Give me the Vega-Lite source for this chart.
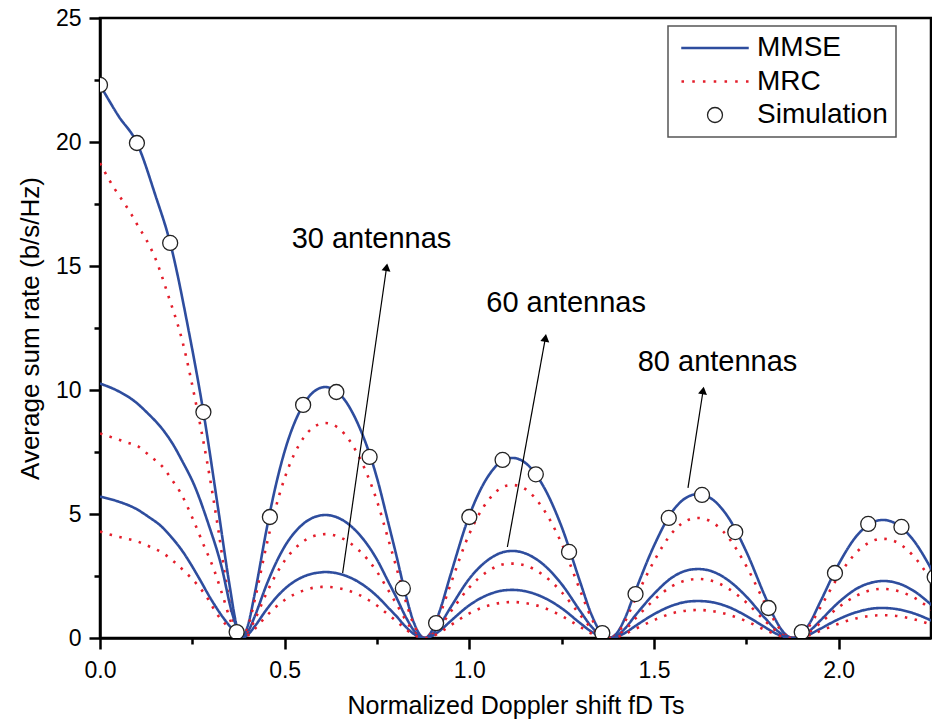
{
"$schema": "https://vega.github.io/schema/vega-lite/v6.json",
"width": 831, "height": 620,
"autosize": {"type": "none"},
"padding": {"left": 100, "top": 18, "right": 1, "bottom": 87},
"background": "white",
"config": {
  "font": "Liberation Sans",
  "view": {"stroke": "black", "strokeWidth": 2.5},
  "axis": {"domainColor": "black", "domainWidth": 2.5, "tickColor": "black", "tickWidth": 2.5, "labelFont": "Liberation Sans", "labelFontSize": 23, "labelColor": "black", "titleFont": "Liberation Sans", "titleFontSize": 25, "titleFontWeight": "normal", "titleColor": "black", "grid": false, "labelFlush": false}
},
"datasets": {
"curves": [
{"method":"MMSE","ant":80,"x":0,"y":22.3},{"method":"MMSE","ant":80,"x":0.05,"y":21.05},{"method":"MMSE","ant":80,"x":0.1,"y":19.96},{"method":"MMSE","ant":80,"x":0.15,"y":17.85},{"method":"MMSE","ant":80,"x":0.19,"y":15.93},{"method":"MMSE","ant":80,"x":0.24,"y":12.4},{"method":"MMSE","ant":80,"x":0.28,"y":9.11},{"method":"MMSE","ant":80,"x":0.32,"y":5.2},{"method":"MMSE","ant":80,"x":0.35,"y":2.2},{"method":"MMSE","ant":80,"x":0.37,"y":0.5},{"method":"MMSE","ant":80,"x":0.383,"y":0},
{"method":"MMSE","ant":80,"x":0.4,"y":0.49},{"method":"MMSE","ant":80,"x":0.42,"y":1.86},{"method":"MMSE","ant":80,"x":0.45,"y":4.3},{"method":"MMSE","ant":80,"x":0.47,"y":5.76},{"method":"MMSE","ant":80,"x":0.5,"y":7.53},{"method":"MMSE","ant":80,"x":0.55,"y":9.39},{"method":"MMSE","ant":80,"x":0.6,"y":10.1},{"method":"MMSE","ant":80,"x":0.61,"y":10.12},{"method":"MMSE","ant":80,"x":0.65,"y":9.82},{"method":"MMSE","ant":80,"x":0.7,"y":8.58},{"method":"MMSE","ant":80,"x":0.75,"y":6.45},{"method":"MMSE","ant":80,"x":0.78,"y":4.68},{"method":"MMSE","ant":80,"x":0.8,"y":3.48},{"method":"MMSE","ant":80,"x":0.83,"y":1.61},{"method":"MMSE","ant":80,"x":0.85,"y":0.61},{"method":"MMSE","ant":80,"x":0.879,"y":0},
{"method":"MMSE","ant":80,"x":0.9,"y":0.33},{"method":"MMSE","ant":80,"x":0.92,"y":1.1},{"method":"MMSE","ant":80,"x":0.95,"y":2.59},{"method":"MMSE","ant":80,"x":1.0,"y":4.94},{"method":"MMSE","ant":80,"x":1.05,"y":6.5},{"method":"MMSE","ant":80,"x":1.1,"y":7.22},{"method":"MMSE","ant":80,"x":1.117,"y":7.26},{"method":"MMSE","ant":80,"x":1.15,"y":7.08},{"method":"MMSE","ant":80,"x":1.2,"y":6.13},{"method":"MMSE","ant":80,"x":1.25,"y":4.48},{"method":"MMSE","ant":80,"x":1.3,"y":2.26},{"method":"MMSE","ant":80,"x":1.33,"y":0.97},{"method":"MMSE","ant":80,"x":1.35,"y":0.36},{"method":"MMSE","ant":80,"x":1.377,"y":0},
{"method":"MMSE","ant":80,"x":1.4,"y":0.21},{"method":"MMSE","ant":80,"x":1.42,"y":0.75},{"method":"MMSE","ant":80,"x":1.45,"y":1.91},{"method":"MMSE","ant":80,"x":1.5,"y":3.72},{"method":"MMSE","ant":80,"x":1.55,"y":5.11},{"method":"MMSE","ant":80,"x":1.6,"y":5.75},{"method":"MMSE","ant":80,"x":1.62,"y":5.8},{"method":"MMSE","ant":80,"x":1.65,"y":5.67},{"method":"MMSE","ant":80,"x":1.7,"y":4.89},{"method":"MMSE","ant":80,"x":1.75,"y":3.48},{"method":"MMSE","ant":80,"x":1.8,"y":1.7},{"method":"MMSE","ant":80,"x":1.83,"y":0.71},{"method":"MMSE","ant":80,"x":1.85,"y":0.24},{"method":"MMSE","ant":80,"x":1.877,"y":0},
{"method":"MMSE","ant":80,"x":1.9,"y":0.18},{"method":"MMSE","ant":80,"x":1.92,"y":0.56},{"method":"MMSE","ant":80,"x":1.95,"y":1.45},{"method":"MMSE","ant":80,"x":2.0,"y":2.98},{"method":"MMSE","ant":80,"x":2.05,"y":4.14},{"method":"MMSE","ant":80,"x":2.1,"y":4.71},{"method":"MMSE","ant":80,"x":2.12,"y":4.76},{"method":"MMSE","ant":80,"x":2.15,"y":4.65},{"method":"MMSE","ant":80,"x":2.2,"y":3.99},{"method":"MMSE","ant":80,"x":2.25,"y":2.8},{"method":"MMSE","ant":80,"x":2.3,"y":1.33},

{"method":"MRC","ant":80,"x":0,"y":19.15},{"method":"MRC","ant":80,"x":0.02,"y":18.6},{"method":"MRC","ant":80,"x":0.04,"y":18.1},{"method":"MRC","ant":80,"x":0.065,"y":17.55},{"method":"MRC","ant":80,"x":0.085,"y":17.08},{"method":"MRC","ant":80,"x":0.105,"y":16.56},{"method":"MRC","ant":80,"x":0.125,"y":16.07},{"method":"MRC","ant":80,"x":0.15,"y":15.3},{"method":"MRC","ant":80,"x":0.185,"y":13.8},{"method":"MRC","ant":80,"x":0.2225,"y":12.0},{"method":"MRC","ant":80,"x":0.26,"y":9.45},{"method":"MRC","ant":80,"x":0.29,"y":7.1},{"method":"MRC","ant":80,"x":0.32,"y":4.4},{"method":"MRC","ant":80,"x":0.34,"y":2.4},{"method":"MRC","ant":80,"x":0.36,"y":0.75},{"method":"MRC","ant":80,"x":0.383,"y":0},
{"method":"MRC","ant":80,"x":0.4,"y":0.42},{"method":"MRC","ant":80,"x":0.42,"y":1.6},{"method":"MRC","ant":80,"x":0.45,"y":3.68},{"method":"MRC","ant":80,"x":0.47,"y":4.93},{"method":"MRC","ant":80,"x":0.5,"y":6.45},{"method":"MRC","ant":80,"x":0.55,"y":8.05},{"method":"MRC","ant":80,"x":0.6,"y":8.65},{"method":"MRC","ant":80,"x":0.61,"y":8.67},{"method":"MRC","ant":80,"x":0.65,"y":8.41},{"method":"MRC","ant":80,"x":0.7,"y":7.35},{"method":"MRC","ant":80,"x":0.75,"y":5.52},{"method":"MRC","ant":80,"x":0.78,"y":4.01},{"method":"MRC","ant":80,"x":0.8,"y":2.98},{"method":"MRC","ant":80,"x":0.83,"y":1.38},{"method":"MRC","ant":80,"x":0.85,"y":0.52},{"method":"MRC","ant":80,"x":0.879,"y":0},
{"method":"MRC","ant":80,"x":0.9,"y":0.28},{"method":"MRC","ant":80,"x":0.92,"y":0.93},{"method":"MRC","ant":80,"x":0.95,"y":2.2},{"method":"MRC","ant":80,"x":1.0,"y":4.2},{"method":"MRC","ant":80,"x":1.05,"y":5.53},{"method":"MRC","ant":80,"x":1.1,"y":6.14},{"method":"MRC","ant":80,"x":1.117,"y":6.17},{"method":"MRC","ant":80,"x":1.15,"y":6.02},{"method":"MRC","ant":80,"x":1.2,"y":5.21},{"method":"MRC","ant":80,"x":1.25,"y":3.81},{"method":"MRC","ant":80,"x":1.3,"y":1.92},{"method":"MRC","ant":80,"x":1.33,"y":0.82},{"method":"MRC","ant":80,"x":1.35,"y":0.3},{"method":"MRC","ant":80,"x":1.377,"y":0},
{"method":"MRC","ant":80,"x":1.4,"y":0.17},{"method":"MRC","ant":80,"x":1.42,"y":0.62},{"method":"MRC","ant":80,"x":1.45,"y":1.6},{"method":"MRC","ant":80,"x":1.5,"y":3.1},{"method":"MRC","ant":80,"x":1.55,"y":4.26},{"method":"MRC","ant":80,"x":1.6,"y":4.8},{"method":"MRC","ant":80,"x":1.62,"y":4.84},{"method":"MRC","ant":80,"x":1.65,"y":4.73},{"method":"MRC","ant":80,"x":1.7,"y":4.08},{"method":"MRC","ant":80,"x":1.75,"y":2.9},{"method":"MRC","ant":80,"x":1.8,"y":1.42},{"method":"MRC","ant":80,"x":1.83,"y":0.6},{"method":"MRC","ant":80,"x":1.85,"y":0.2},{"method":"MRC","ant":80,"x":1.877,"y":0},
{"method":"MRC","ant":80,"x":1.9,"y":0.15},{"method":"MRC","ant":80,"x":1.92,"y":0.47},{"method":"MRC","ant":80,"x":1.95,"y":1.22},{"method":"MRC","ant":80,"x":2.0,"y":2.5},{"method":"MRC","ant":80,"x":2.05,"y":3.48},{"method":"MRC","ant":80,"x":2.1,"y":3.96},{"method":"MRC","ant":80,"x":2.12,"y":4.0},{"method":"MRC","ant":80,"x":2.15,"y":3.91},{"method":"MRC","ant":80,"x":2.2,"y":3.35},{"method":"MRC","ant":80,"x":2.25,"y":2.35},{"method":"MRC","ant":80,"x":2.3,"y":1.12},

{"method":"MMSE","ant":60,"x":0,"y":10.26},{"method":"MMSE","ant":60,"x":0.05,"y":9.95},{"method":"MMSE","ant":60,"x":0.095,"y":9.53},{"method":"MMSE","ant":60,"x":0.13,"y":9.05},{"method":"MMSE","ant":60,"x":0.167,"y":8.46},{"method":"MMSE","ant":60,"x":0.2,"y":7.75},{"method":"MMSE","ant":60,"x":0.221,"y":7.18},{"method":"MMSE","ant":60,"x":0.257,"y":6.1},{"method":"MMSE","ant":60,"x":0.293,"y":4.62},{"method":"MMSE","ant":60,"x":0.329,"y":2.88},{"method":"MMSE","ant":60,"x":0.356,"y":1.1},{"method":"MMSE","ant":60,"x":0.372,"y":0.35},{"method":"MMSE","ant":60,"x":0.383,"y":0},
{"method":"MMSE","ant":60,"x":0.4,"y":0.24},{"method":"MMSE","ant":60,"x":0.42,"y":0.91},{"method":"MMSE","ant":60,"x":0.45,"y":2.11},{"method":"MMSE","ant":60,"x":0.47,"y":2.82},{"method":"MMSE","ant":60,"x":0.5,"y":3.69},{"method":"MMSE","ant":60,"x":0.55,"y":4.6},{"method":"MMSE","ant":60,"x":0.6,"y":4.95},{"method":"MMSE","ant":60,"x":0.61,"y":4.96},{"method":"MMSE","ant":60,"x":0.65,"y":4.81},{"method":"MMSE","ant":60,"x":0.7,"y":4.21},{"method":"MMSE","ant":60,"x":0.75,"y":3.16},{"method":"MMSE","ant":60,"x":0.78,"y":2.29},{"method":"MMSE","ant":60,"x":0.8,"y":1.71},{"method":"MMSE","ant":60,"x":0.83,"y":0.79},{"method":"MMSE","ant":60,"x":0.85,"y":0.3},{"method":"MMSE","ant":60,"x":0.879,"y":0},
{"method":"MMSE","ant":60,"x":0.9,"y":0.16},{"method":"MMSE","ant":60,"x":0.92,"y":0.53},{"method":"MMSE","ant":60,"x":0.95,"y":1.25},{"method":"MMSE","ant":60,"x":1.0,"y":2.39},{"method":"MMSE","ant":60,"x":1.05,"y":3.14},{"method":"MMSE","ant":60,"x":1.1,"y":3.49},{"method":"MMSE","ant":60,"x":1.117,"y":3.51},{"method":"MMSE","ant":60,"x":1.15,"y":3.42},{"method":"MMSE","ant":60,"x":1.2,"y":2.97},{"method":"MMSE","ant":60,"x":1.25,"y":2.17},{"method":"MMSE","ant":60,"x":1.3,"y":1.09},{"method":"MMSE","ant":60,"x":1.33,"y":0.47},{"method":"MMSE","ant":60,"x":1.35,"y":0.17},{"method":"MMSE","ant":60,"x":1.377,"y":0},
{"method":"MMSE","ant":60,"x":1.4,"y":0.1},{"method":"MMSE","ant":60,"x":1.42,"y":0.36},{"method":"MMSE","ant":60,"x":1.45,"y":0.92},{"method":"MMSE","ant":60,"x":1.5,"y":1.78},{"method":"MMSE","ant":60,"x":1.55,"y":2.45},{"method":"MMSE","ant":60,"x":1.6,"y":2.76},{"method":"MMSE","ant":60,"x":1.62,"y":2.78},{"method":"MMSE","ant":60,"x":1.65,"y":2.72},{"method":"MMSE","ant":60,"x":1.7,"y":2.34},{"method":"MMSE","ant":60,"x":1.75,"y":1.67},{"method":"MMSE","ant":60,"x":1.8,"y":0.81},{"method":"MMSE","ant":60,"x":1.83,"y":0.34},{"method":"MMSE","ant":60,"x":1.85,"y":0.12},{"method":"MMSE","ant":60,"x":1.877,"y":0},
{"method":"MMSE","ant":60,"x":1.9,"y":0.09},{"method":"MMSE","ant":60,"x":1.92,"y":0.27},{"method":"MMSE","ant":60,"x":1.95,"y":0.7},{"method":"MMSE","ant":60,"x":2.0,"y":1.44},{"method":"MMSE","ant":60,"x":2.05,"y":2.0},{"method":"MMSE","ant":60,"x":2.1,"y":2.27},{"method":"MMSE","ant":60,"x":2.12,"y":2.3},{"method":"MMSE","ant":60,"x":2.15,"y":2.25},{"method":"MMSE","ant":60,"x":2.2,"y":1.93},{"method":"MMSE","ant":60,"x":2.25,"y":1.35},{"method":"MMSE","ant":60,"x":2.3,"y":0.64},

{"method":"MRC","ant":60,"x":0,"y":8.25},{"method":"MRC","ant":60,"x":0.032,"y":8.09},{"method":"MRC","ant":60,"x":0.072,"y":7.89},{"method":"MRC","ant":60,"x":0.104,"y":7.72},{"method":"MRC","ant":60,"x":0.135,"y":7.34},{"method":"MRC","ant":60,"x":0.171,"y":6.88},{"method":"MRC","ant":60,"x":0.195,"y":6.37},{"method":"MRC","ant":60,"x":0.218,"y":5.86},{"method":"MRC","ant":60,"x":0.25,"y":4.85},{"method":"MRC","ant":60,"x":0.279,"y":3.81},{"method":"MRC","ant":60,"x":0.309,"y":2.74},{"method":"MRC","ant":60,"x":0.333,"y":1.67},{"method":"MRC","ant":60,"x":0.356,"y":0.6},{"method":"MRC","ant":60,"x":0.383,"y":0},
{"method":"MRC","ant":60,"x":0.4,"y":0.2},{"method":"MRC","ant":60,"x":0.42,"y":0.77},{"method":"MRC","ant":60,"x":0.45,"y":1.78},{"method":"MRC","ant":60,"x":0.47,"y":2.38},{"method":"MRC","ant":60,"x":0.5,"y":3.12},{"method":"MRC","ant":60,"x":0.55,"y":3.89},{"method":"MRC","ant":60,"x":0.6,"y":4.18},{"method":"MRC","ant":60,"x":0.61,"y":4.19},{"method":"MRC","ant":60,"x":0.65,"y":4.06},{"method":"MRC","ant":60,"x":0.7,"y":3.55},{"method":"MRC","ant":60,"x":0.75,"y":2.67},{"method":"MRC","ant":60,"x":0.78,"y":1.94},{"method":"MRC","ant":60,"x":0.8,"y":1.44},{"method":"MRC","ant":60,"x":0.83,"y":0.67},{"method":"MRC","ant":60,"x":0.85,"y":0.25},{"method":"MRC","ant":60,"x":0.879,"y":0},
{"method":"MRC","ant":60,"x":0.9,"y":0.14},{"method":"MRC","ant":60,"x":0.92,"y":0.45},{"method":"MRC","ant":60,"x":0.95,"y":1.07},{"method":"MRC","ant":60,"x":1.0,"y":2.04},{"method":"MRC","ant":60,"x":1.05,"y":2.69},{"method":"MRC","ant":60,"x":1.1,"y":2.99},{"method":"MRC","ant":60,"x":1.117,"y":3.0},{"method":"MRC","ant":60,"x":1.15,"y":2.93},{"method":"MRC","ant":60,"x":1.2,"y":2.54},{"method":"MRC","ant":60,"x":1.25,"y":1.85},{"method":"MRC","ant":60,"x":1.3,"y":0.93},{"method":"MRC","ant":60,"x":1.33,"y":0.4},{"method":"MRC","ant":60,"x":1.35,"y":0.15},{"method":"MRC","ant":60,"x":1.377,"y":0},
{"method":"MRC","ant":60,"x":1.4,"y":0.09},{"method":"MRC","ant":60,"x":1.42,"y":0.31},{"method":"MRC","ant":60,"x":1.45,"y":0.79},{"method":"MRC","ant":60,"x":1.5,"y":1.53},{"method":"MRC","ant":60,"x":1.55,"y":2.1},{"method":"MRC","ant":60,"x":1.6,"y":2.36},{"method":"MRC","ant":60,"x":1.62,"y":2.38},{"method":"MRC","ant":60,"x":1.65,"y":2.33},{"method":"MRC","ant":60,"x":1.7,"y":2.01},{"method":"MRC","ant":60,"x":1.75,"y":1.43},{"method":"MRC","ant":60,"x":1.8,"y":0.7},{"method":"MRC","ant":60,"x":1.83,"y":0.29},{"method":"MRC","ant":60,"x":1.85,"y":0.1},{"method":"MRC","ant":60,"x":1.877,"y":0},
{"method":"MRC","ant":60,"x":1.9,"y":0.08},{"method":"MRC","ant":60,"x":1.92,"y":0.23},{"method":"MRC","ant":60,"x":1.95,"y":0.6},{"method":"MRC","ant":60,"x":2.0,"y":1.24},{"method":"MRC","ant":60,"x":2.05,"y":1.72},{"method":"MRC","ant":60,"x":2.1,"y":1.96},{"method":"MRC","ant":60,"x":2.12,"y":1.98},{"method":"MRC","ant":60,"x":2.15,"y":1.93},{"method":"MRC","ant":60,"x":2.2,"y":1.66},{"method":"MRC","ant":60,"x":2.25,"y":1.16},{"method":"MRC","ant":60,"x":2.3,"y":0.55},

{"method":"MMSE","ant":30,"x":0,"y":5.7},{"method":"MMSE","ant":30,"x":0.05,"y":5.5},{"method":"MMSE","ant":30,"x":0.095,"y":5.23},{"method":"MMSE","ant":30,"x":0.13,"y":4.9},{"method":"MMSE","ant":30,"x":0.167,"y":4.49},{"method":"MMSE","ant":30,"x":0.2,"y":3.95},{"method":"MMSE","ant":30,"x":0.221,"y":3.55},{"method":"MMSE","ant":30,"x":0.245,"y":3.0},{"method":"MMSE","ant":30,"x":0.266,"y":2.47},{"method":"MMSE","ant":30,"x":0.302,"y":1.53},{"method":"MMSE","ant":30,"x":0.338,"y":0.73},{"method":"MMSE","ant":30,"x":0.365,"y":0.25},{"method":"MMSE","ant":30,"x":0.383,"y":0},
{"method":"MMSE","ant":30,"x":0.4,"y":0.13},{"method":"MMSE","ant":30,"x":0.42,"y":0.49},{"method":"MMSE","ant":30,"x":0.45,"y":1.13},{"method":"MMSE","ant":30,"x":0.47,"y":1.51},{"method":"MMSE","ant":30,"x":0.5,"y":1.98},{"method":"MMSE","ant":30,"x":0.55,"y":2.47},{"method":"MMSE","ant":30,"x":0.6,"y":2.65},{"method":"MMSE","ant":30,"x":0.61,"y":2.66},{"method":"MMSE","ant":30,"x":0.65,"y":2.58},{"method":"MMSE","ant":30,"x":0.7,"y":2.26},{"method":"MMSE","ant":30,"x":0.75,"y":1.69},{"method":"MMSE","ant":30,"x":0.78,"y":1.23},{"method":"MMSE","ant":30,"x":0.8,"y":0.92},{"method":"MMSE","ant":30,"x":0.83,"y":0.42},{"method":"MMSE","ant":30,"x":0.85,"y":0.16},{"method":"MMSE","ant":30,"x":0.879,"y":0},
{"method":"MMSE","ant":30,"x":0.9,"y":0.09},{"method":"MMSE","ant":30,"x":0.92,"y":0.29},{"method":"MMSE","ant":30,"x":0.95,"y":0.69},{"method":"MMSE","ant":30,"x":1.0,"y":1.32},{"method":"MMSE","ant":30,"x":1.05,"y":1.74},{"method":"MMSE","ant":30,"x":1.1,"y":1.93},{"method":"MMSE","ant":30,"x":1.117,"y":1.94},{"method":"MMSE","ant":30,"x":1.15,"y":1.89},{"method":"MMSE","ant":30,"x":1.2,"y":1.64},{"method":"MMSE","ant":30,"x":1.25,"y":1.2},{"method":"MMSE","ant":30,"x":1.3,"y":0.6},{"method":"MMSE","ant":30,"x":1.33,"y":0.26},{"method":"MMSE","ant":30,"x":1.35,"y":0.1},{"method":"MMSE","ant":30,"x":1.377,"y":0},
{"method":"MMSE","ant":30,"x":1.4,"y":0.05},{"method":"MMSE","ant":30,"x":1.42,"y":0.19},{"method":"MMSE","ant":30,"x":1.45,"y":0.49},{"method":"MMSE","ant":30,"x":1.5,"y":0.96},{"method":"MMSE","ant":30,"x":1.55,"y":1.31},{"method":"MMSE","ant":30,"x":1.6,"y":1.48},{"method":"MMSE","ant":30,"x":1.62,"y":1.49},{"method":"MMSE","ant":30,"x":1.65,"y":1.46},{"method":"MMSE","ant":30,"x":1.7,"y":1.26},{"method":"MMSE","ant":30,"x":1.75,"y":0.89},{"method":"MMSE","ant":30,"x":1.8,"y":0.44},{"method":"MMSE","ant":30,"x":1.83,"y":0.18},{"method":"MMSE","ant":30,"x":1.85,"y":0.06},{"method":"MMSE","ant":30,"x":1.877,"y":0},
{"method":"MMSE","ant":30,"x":1.9,"y":0.05},{"method":"MMSE","ant":30,"x":1.92,"y":0.14},{"method":"MMSE","ant":30,"x":1.95,"y":0.37},{"method":"MMSE","ant":30,"x":2.0,"y":0.76},{"method":"MMSE","ant":30,"x":2.05,"y":1.05},{"method":"MMSE","ant":30,"x":2.1,"y":1.2},{"method":"MMSE","ant":30,"x":2.12,"y":1.21},{"method":"MMSE","ant":30,"x":2.15,"y":1.18},{"method":"MMSE","ant":30,"x":2.2,"y":1.01},{"method":"MMSE","ant":30,"x":2.25,"y":0.71},{"method":"MMSE","ant":30,"x":2.3,"y":0.34},

{"method":"MRC","ant":30,"x":0,"y":4.29},{"method":"MRC","ant":30,"x":0.032,"y":4.15},{"method":"MRC","ant":30,"x":0.068,"y":4.02},{"method":"MRC","ant":30,"x":0.104,"y":3.88},{"method":"MRC","ant":30,"x":0.135,"y":3.68},{"method":"MRC","ant":30,"x":0.171,"y":3.42},{"method":"MRC","ant":30,"x":0.203,"y":3.04},{"method":"MRC","ant":30,"x":0.237,"y":2.57},{"method":"MRC","ant":30,"x":0.268,"y":2.07},{"method":"MRC","ant":30,"x":0.293,"y":1.56},{"method":"MRC","ant":30,"x":0.315,"y":1.0},{"method":"MRC","ant":30,"x":0.338,"y":0.59},{"method":"MRC","ant":30,"x":0.36,"y":0.25},{"method":"MRC","ant":30,"x":0.383,"y":0},
{"method":"MRC","ant":30,"x":0.4,"y":0.1},{"method":"MRC","ant":30,"x":0.42,"y":0.38},{"method":"MRC","ant":30,"x":0.45,"y":0.88},{"method":"MRC","ant":30,"x":0.47,"y":1.17},{"method":"MRC","ant":30,"x":0.5,"y":1.53},{"method":"MRC","ant":30,"x":0.55,"y":1.91},{"method":"MRC","ant":30,"x":0.6,"y":2.06},{"method":"MRC","ant":30,"x":0.61,"y":2.06},{"method":"MRC","ant":30,"x":0.65,"y":2.0},{"method":"MRC","ant":30,"x":0.7,"y":1.75},{"method":"MRC","ant":30,"x":0.75,"y":1.31},{"method":"MRC","ant":30,"x":0.78,"y":0.95},{"method":"MRC","ant":30,"x":0.8,"y":0.71},{"method":"MRC","ant":30,"x":0.83,"y":0.33},{"method":"MRC","ant":30,"x":0.85,"y":0.12},{"method":"MRC","ant":30,"x":0.879,"y":0},
{"method":"MRC","ant":30,"x":0.9,"y":0.07},{"method":"MRC","ant":30,"x":0.92,"y":0.22},{"method":"MRC","ant":30,"x":0.95,"y":0.52},{"method":"MRC","ant":30,"x":1.0,"y":0.99},{"method":"MRC","ant":30,"x":1.05,"y":1.3},{"method":"MRC","ant":30,"x":1.1,"y":1.44},{"method":"MRC","ant":30,"x":1.117,"y":1.45},{"method":"MRC","ant":30,"x":1.15,"y":1.41},{"method":"MRC","ant":30,"x":1.2,"y":1.23},{"method":"MRC","ant":30,"x":1.25,"y":0.89},{"method":"MRC","ant":30,"x":1.3,"y":0.45},{"method":"MRC","ant":30,"x":1.33,"y":0.19},{"method":"MRC","ant":30,"x":1.35,"y":0.07},{"method":"MRC","ant":30,"x":1.377,"y":0},
{"method":"MRC","ant":30,"x":1.4,"y":0.04},{"method":"MRC","ant":30,"x":1.42,"y":0.15},{"method":"MRC","ant":30,"x":1.45,"y":0.37},{"method":"MRC","ant":30,"x":1.5,"y":0.72},{"method":"MRC","ant":30,"x":1.55,"y":1.0},{"method":"MRC","ant":30,"x":1.6,"y":1.12},{"method":"MRC","ant":30,"x":1.62,"y":1.13},{"method":"MRC","ant":30,"x":1.65,"y":1.1},{"method":"MRC","ant":30,"x":1.7,"y":0.95},{"method":"MRC","ant":30,"x":1.75,"y":0.68},{"method":"MRC","ant":30,"x":1.8,"y":0.33},{"method":"MRC","ant":30,"x":1.83,"y":0.14},{"method":"MRC","ant":30,"x":1.85,"y":0.05},{"method":"MRC","ant":30,"x":1.877,"y":0},
{"method":"MRC","ant":30,"x":1.9,"y":0.035},{"method":"MRC","ant":30,"x":1.92,"y":0.11},{"method":"MRC","ant":30,"x":1.95,"y":0.28},{"method":"MRC","ant":30,"x":2.0,"y":0.575},{"method":"MRC","ant":30,"x":2.05,"y":0.8},{"method":"MRC","ant":30,"x":2.1,"y":0.91},{"method":"MRC","ant":30,"x":2.12,"y":0.92},{"method":"MRC","ant":30,"x":2.15,"y":0.9},{"method":"MRC","ant":30,"x":2.2,"y":0.77},{"method":"MRC","ant":30,"x":2.25,"y":0.54},{"method":"MRC","ant":30,"x":2.3,"y":0.26}
],
"sim": [
{"method":"Simulation","x":0,"y":22.3},{"method":"Simulation","x":0.1,"y":19.96},{"method":"Simulation","x":0.19,"y":15.93},{"method":"Simulation","x":0.28,"y":9.11},{"method":"Simulation","x":0.37,"y":0.24},{"method":"Simulation","x":0.46,"y":4.88},{"method":"Simulation","x":0.55,"y":9.4},{"method":"Simulation","x":0.64,"y":9.92},{"method":"Simulation","x":0.73,"y":7.3},{"method":"Simulation","x":0.82,"y":2.0},{"method":"Simulation","x":0.91,"y":0.6},{"method":"Simulation","x":1.0,"y":4.88},{"method":"Simulation","x":1.09,"y":7.18},{"method":"Simulation","x":1.18,"y":6.6},{"method":"Simulation","x":1.27,"y":3.47},{"method":"Simulation","x":1.36,"y":0.2},{"method":"Simulation","x":1.45,"y":1.77},{"method":"Simulation","x":1.54,"y":4.84},{"method":"Simulation","x":1.63,"y":5.77},{"method":"Simulation","x":1.72,"y":4.27},{"method":"Simulation","x":1.81,"y":1.21},{"method":"Simulation","x":1.9,"y":0.24},{"method":"Simulation","x":1.99,"y":2.62},{"method":"Simulation","x":2.08,"y":4.6},{"method":"Simulation","x":2.17,"y":4.48},{"method":"Simulation","x":2.26,"y":2.46}
],
"arrows": [
{"label":"30 antennas","x":0.657,"y":2.62,"x2":0.776,"y2":14.95,"lx":0.735,"ly":16.1},
{"label":"60 antennas","x":1.103,"y":3.67,"x2":1.206,"y2":12.1,"lx":1.262,"ly":13.5},
{"label":"80 antennas","x":1.592,"y":6.05,"x2":1.633,"y2":9.98,"lx":1.672,"ly":11.13}
]
},
"layer": [
{
  "data": {"name": "curves"},
  "mark": {"type": "line", "interpolate": "monotone", "clip": true, "strokeWidth": 2.6},
  "encoding": {
    "x": {"field": "x", "type": "quantitative", "scale": {"domain": [0, 2.25], "nice": false, "zero": false},
      "axis": {"title": "Normalized Doppler shift fD Ts", "values": [0,0.25,0.5,0.75,1,1.25,1.5,1.75,2], "format": ".1f",
        "labelExpr": "datum.value % 0.5 === 0 ? datum.label : ''",
        "tickSize": {"condition": {"test": "datum.value % 0.5 === 0", "value": 11}, "value": 6},
        "labelPadding": 10, "titlePadding": 11, "labelOverlap": false, "labelFlush": false}},
    "y": {"field": "y", "type": "quantitative", "scale": {"domain": [0, 25], "nice": false},
      "axis": {"title": "Average sum rate (b/s/Hz)", "titleFontSize": 26, "values": [0,2.5,5,7.5,10,12.5,15,17.5,20,22.5,25],
        "labelExpr": "datum.value % 5 === 0 ? datum.label : ''",
        "tickSize": {"condition": {"test": "datum.value % 5 === 0", "value": 11}, "value": 6},
        "labelPadding": 8, "titlePadding": 12, "labelOverlap": false, "labelFlush": false}},
    "color": {"field": "method", "type": "nominal",
      "scale": {"domain": ["MMSE", "MRC", "Simulation"], "range": ["#2e4d9e", "#e41e2b", "#222222"]},
      "legend": {"title": null, "orient": "none", "legendX": 568, "legendY": 8, "padding": 8,
        "fillColor": "white", "strokeColor": "#555555",
        "labelFont": "Liberation Sans", "labelFontSize": 28, "labelColor": "black",
        "symbolSize": 225, "symbolOffset": 25, "labelOffset": 28, "rowPadding": 5.5, "symbolStrokeWidth": 2.6,
        "encode": {
          "symbols": {"update": {"fill": {"value": "white"}, "strokeWidth": {"signal": "datum.value === 'Simulation' ? 1.3 : 2.6"}}},
          "legend": {"update": {"strokeWidth": {"value": 1.5}}}
        }}},
    "strokeDash": {"field": "method", "type": "nominal", "scale": {"domain": ["MMSE", "MRC"], "range": [[1, 0], [2.5, 7.5]]}, "legend": null},
    "detail": {"field": "ant", "type": "nominal"}
  }
},
{
  "data": {"name": "arrows"},
  "mark": {"type": "rule", "color": "black", "strokeWidth": 1.2},
  "encoding": {
    "x": {"field": "x", "type": "quantitative"},
    "y": {"field": "y", "type": "quantitative"},
    "x2": {"field": "x2"},
    "y2": {"field": "y2"}
  }
},
{
  "data": {"name": "arrows"},
  "mark": {"type": "point", "shape": "triangle-up", "filled": true, "color": "black", "size": 80, "angle": 9, "opacity": 1},
  "encoding": {
    "x": {"field": "x2", "type": "quantitative"},
    "y": {"field": "y2", "type": "quantitative"}
  }
},
{
  "data": {"name": "sim"},
  "mark": {"type": "point", "filled": false, "fill": "white", "stroke": "#222222", "strokeWidth": 1.3, "size": 225, "opacity": 1, "clip": true},
  "encoding": {
    "x": {"field": "x", "type": "quantitative"},
    "y": {"field": "y", "type": "quantitative"},
    "shape": {"field": "method", "type": "nominal",
      "scale": {"domain": ["MMSE", "MRC", "Simulation"], "range": ["M-4.5,0H4.5", "M-4.47,0h0.34M-3.03,0h0.34M-1.61,0h0.34M-0.17,0h0.34M1.27,0h0.34M2.69,0h0.34M4.13,0h0.34", "circle"]},
      "legend": {"title": null}}
  }
},
{
  "data": {"name": "arrows"},
  "mark": {"type": "text", "font": "Liberation Sans", "fontSize": 29, "color": "black", "align": "center", "baseline": "middle"},
  "encoding": {
    "x": {"field": "lx", "type": "quantitative"},
    "y": {"field": "ly", "type": "quantitative"},
    "text": {"field": "label"}
  }
}
]
}
